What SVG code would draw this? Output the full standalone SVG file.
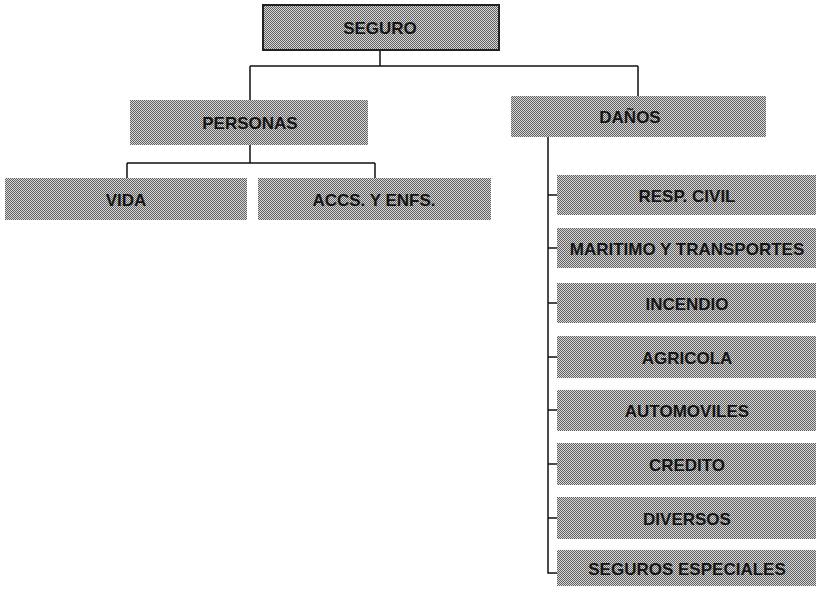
<svg xmlns="http://www.w3.org/2000/svg" width="816" height="593" viewBox="0 0 816 593">
<defs>
<pattern id="dither" width="2" height="2" patternUnits="userSpaceOnUse">
<rect width="2" height="2" fill="#d6d6d6"/>
<rect x="0" y="0" width="1" height="1" fill="#626262"/>
<rect x="1" y="1" width="1" height="1" fill="#626262"/>
</pattern>
</defs>
<style>
.box{fill:url(#dither);}
.root{stroke:#222;stroke-width:2;}
.lbl{font-family:"Liberation Sans",Arial,sans-serif;font-size:17px;font-weight:bold;fill:#151515;text-anchor:middle;dominant-baseline:central;}
.conn{fill:none;stroke:#111;stroke-width:1.5;}
</style>
<rect width="816" height="593" fill="#ffffff"/>
<g id="connectors">
<path class="conn" d="M380,50 V66 M250,66 H638 M250,66 V100 M638,66 V96"/>
<path class="conn" d="M250,145 V163 M127,163 H375 M127,163 V178 M375,163 V178"/>
<path class="conn" d="M548,137 V573 H557"/>
<path class="conn" d="M548,195 H557 M548,248 H557 M548,303 H557 M548,357 H557 M548,410 H557 M548,464 H557 M548,518 H557"/>
</g>
<g id="seguro"><rect class="box root" x="263" y="5" width="236" height="45"/><text class="lbl" x="380" y="28">SEGURO</text></g>
<g id="personas"><rect class="box" x="130" y="100" width="238" height="45"/><text class="lbl" x="250" y="123">PERSONAS</text></g>
<g id="danos"><rect class="box" x="511" y="96" width="255" height="41"/><text class="lbl" x="630" y="117">DAÑOS</text></g>
<g id="vida"><rect class="box" x="5" y="178" width="242" height="42"/><text class="lbl" x="126" y="200">VIDA</text></g>
<g id="accs"><rect class="box" x="258" y="178" width="233" height="42"/><text class="lbl" x="374" y="200">ACCS. Y ENFS.</text></g>
<g id="resp"><rect class="box" x="557" y="175" width="259" height="40"/><text class="lbl" x="687" y="196">RESP. CIVIL</text></g>
<g id="maritimo"><rect class="box" x="557" y="228" width="259" height="40"/><text class="lbl" x="687" y="249">MARITIMO Y TRANSPORTES</text></g>
<g id="incendio"><rect class="box" x="557" y="283" width="259" height="40"/><text class="lbl" x="687" y="304">INCENDIO</text></g>
<g id="agricola"><rect class="box" x="557" y="336" width="259" height="42"/><text class="lbl" x="687" y="358">AGRICOLA</text></g>
<g id="automoviles"><rect class="box" x="557" y="390" width="259" height="41"/><text class="lbl" x="687" y="411">AUTOMOVILES</text></g>
<g id="credito"><rect class="box" x="557" y="443" width="259" height="42"/><text class="lbl" x="687" y="465">CREDITO</text></g>
<g id="diversos"><rect class="box" x="557" y="497" width="259" height="42"/><text class="lbl" x="687" y="519">DIVERSOS</text></g>
<g id="especiales"><rect class="box" x="557" y="550" width="259" height="36"/><text class="lbl" x="687" y="569">SEGUROS ESPECIALES</text></g>
</svg>
